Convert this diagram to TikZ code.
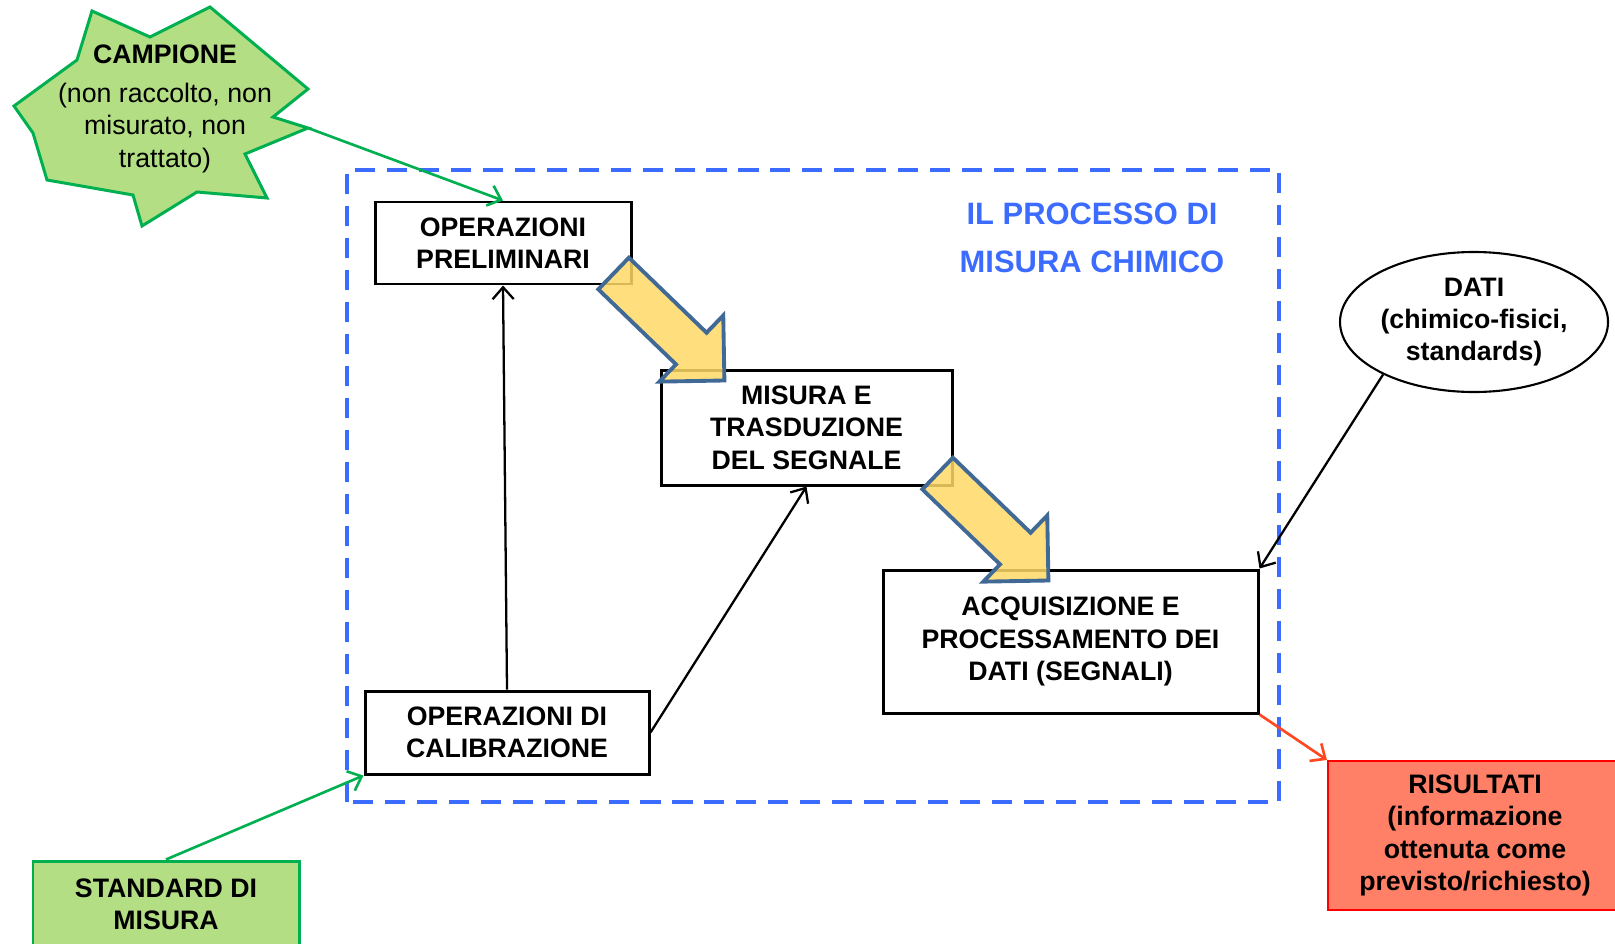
\documentclass[tikz,border=0pt]{standalone}
\usepackage{fontspec}
\setmainfont{Liberation Sans}
\usetikzlibrary{arrows.meta,shapes.geometric}
\definecolor{procblue}{RGB}{59,108,255}
\definecolor{leaf}{RGB}{179,222,132}
\definecolor{leafline}{RGB}{0,176,80}
\definecolor{salmon}{RGB}{255,128,102}
\definecolor{redline}{RGB}{255,0,0}
\definecolor{arrowred}{RGB}{255,72,32}
\definecolor{gold}{RGB}{255,217,102}
\definecolor{steel}{RGB}{65,105,150}
\begin{document}
\begin{tikzpicture}
\tikzstyle{every node}=[font=\fontsize{7.6}{9.2}\selectfont\bfseries, align=center, inner sep=0pt];
\tikzstyle{box}=[draw, rectangle, line width=0.85pt];
\tikzstyle{link}=[line width=0.65pt, -{Straight Barb[length=3.4pt,width=6pt]}];
\tikzstyle{bigarrow}=[draw=steel, fill=gold, line width=1.1pt, fill opacity=0.85];
\useasboundingbox (0,0) rectangle (16.15,9.43);
\draw[procblue, line width=1.4pt, dash pattern=on 5.7pt off 3.4pt] (3.47,1.41) rectangle (12.79,7.73);
\node[text=procblue, font=\fontsize{8.8}{13.6}\selectfont\bfseries] (title) at (10.92, 7.05) {IL PROCESSO DI\\MISURA CHIMICO};
\draw[leafline, fill=leaf, line width=0.85pt] (0.92,9.32) -- (1.50,9.06) -- (2.10,9.36) -- (3.08,8.54) -- (2.73,8.26)
  -- (3.08,8.15) coordinate (tip) -- (2.45,7.89) -- (2.67,7.45) -- (1.97,7.51) -- (1.42,7.17) -- (1.33,7.48)
  -- (0.47,7.63) -- (0.33,8.10) -- (0.14,8.37) -- (0.77,8.83) -- cycle;
\node[font=\fontsize{7.6}{9.2}\selectfont] (camp) at (1.65, 8.345) {\textbf{CAMPIONE}\\[2pt](non raccolto, non\\misurato, non\\trattato)};
\node[box, minimum width=2.56cm, minimum height=0.82cm] (prel) at (5.03, 7.00) {OPERAZIONI\\PRELIMINARI};
\node[box, minimum width=2.91cm, minimum height=1.15cm] (mis) at (8.065, 5.155) {MISURA E\\TRASDUZIONE\\DEL SEGNALE};
\node[box, minimum width=3.75cm, minimum height=1.43cm] (acq) at (10.705, 3.015) {ACQUISIZIONE E\\PROCESSAMENTO DEI\\DATI (SEGNALI)};
\node[box, minimum width=2.84cm, minimum height=0.83cm] (cal) at (5.07, 2.105) {OPERAZIONI DI\\CALIBRAZIONE};
\node[box, draw=leafline, fill=leaf, minimum width=2.66cm, minimum height=0.86cm] (std) at (1.66, 0.39) {STANDARD DI\\MISURA};
\node[box, draw=redline, fill=salmon, line width=0.6pt, minimum width=2.94cm, minimum height=1.49cm] (ris) at (14.75, 1.075) {RISULTATI\\(informazione\\ottenuta come\\previsto/richiesto)};
\node[draw, ellipse, line width=0.6pt, minimum width=2.68cm, minimum height=1.40cm] (dati) at (14.74, 6.21) {DATI\\(chimico-fisici,\\standards)};
\foreach \x/\y in {6.69/6.16, 9.93/4.16}
  \draw[bigarrow, shift={(\x,\y)}, rotate=-44] (-0.77,-0.22) -- (0.31,-0.22) -- (0.31,-0.46) -- (0.77,0)
    -- (0.31,0.46) -- (0.31,0.22) -- (-0.77,0.22) -- cycle;
\draw[link, leafline, line width=0.75pt] (tip) -- (prel.north);
\draw[link, leafline, line width=0.75pt] (std.north) -- (cal.south west);
\draw[link] (cal.north) -- (prel.south);
\draw[link] (cal.east) -- (mis.south);
\draw[link] (dati.210) -- (acq.north east);
\draw[link, arrowred, line width=0.75pt] (acq.south east) -- (ris.north west);
\end{tikzpicture}
\end{document}
